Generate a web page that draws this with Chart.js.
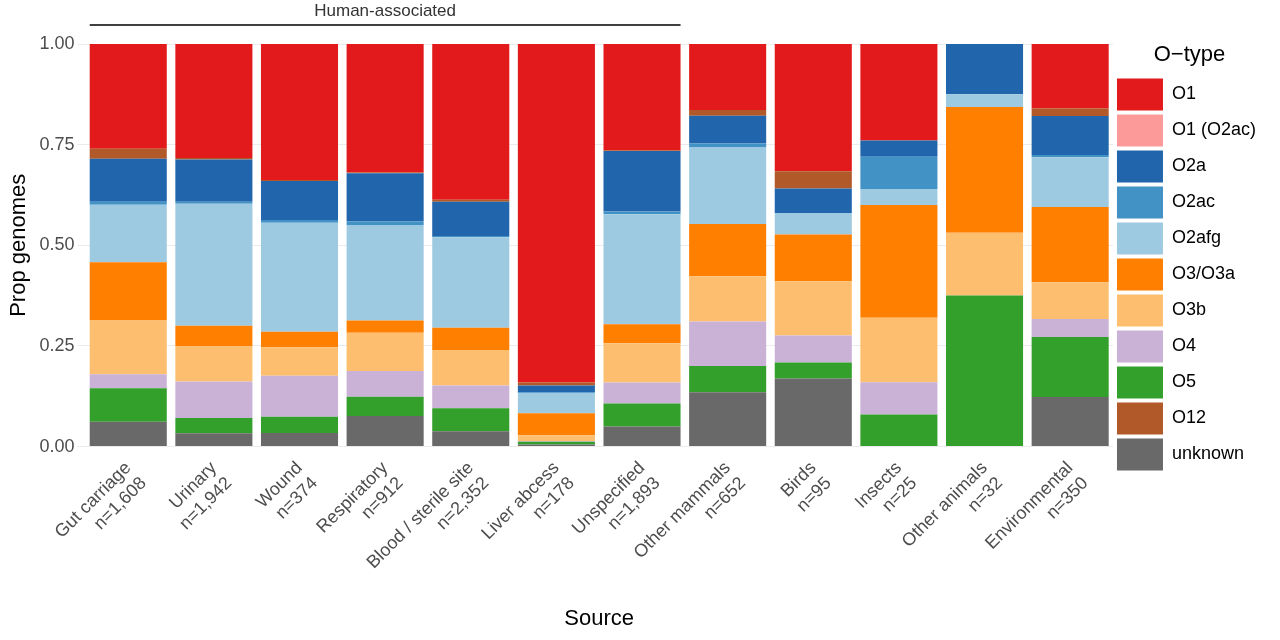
<!DOCTYPE html>
<html>
<head>
<meta charset="utf-8">
<script src="https://cdn.jsdelivr.net/npm/chart.js@4"></script>
<style>
  html, body { margin: 0; padding: 0; background: #fff; }
  #wrap { width: 1280px; height: 640px; }
</style>
</head>
<body>
<div id="wrap"><canvas id="wykres"></canvas></div>
<script>
// Kategorie (osie X)
const sources = [
  ['Gut carriage', 'n=1,608'], ['Urinary', 'n=1,942'], ['Wound', 'n=374'],
  ['Respiratory', 'n=912'], ['Blood / sterile site', 'n=2,352'], ['Liver abcess', 'n=178'],
  ['Unspecified', 'n=1,893'], ['Other mammals', 'n=652'], ['Birds', 'n=95'],
  ['Insects', 'n=25'], ['Other animals', 'n=32'], ['Environmental', 'n=350']
];
const humanCount = 7;

// Udzialy (od dolu stosu)
const unknown = [0.062, 0.033, 0.034, 0.076, 0.038, 0.005, 0.050, 0.135, 0.169, 0.00, 0.0, 0.123];
const o5      = [0.083, 0.038, 0.040, 0.048, 0.057, 0.007, 0.057, 0.065, 0.040, 0.08, 0.375, 0.149];
const o4      = [0.035, 0.091, 0.102, 0.064, 0.057, 0.002, 0.052, 0.111, 0.067, 0.08, 0.0, 0.045];
const o3b     = [0.133, 0.088, 0.071, 0.095, 0.088, 0.014, 0.098, 0.112, 0.135, 0.16, 0.15625, 0.091];
const o3      = [0.145, 0.050, 0.038, 0.030, 0.055, 0.055, 0.047, 0.130, 0.116, 0.28, 0.3125, 0.187];
const o2afg   = [0.143, 0.303, 0.271, 0.236, 0.225, 0.050, 0.273, 0.190, 0.053, 0.04, 0.03125, 0.124];
const o2ac    = [0.007, 0.005, 0.007, 0.011, 0.003, 0.002, 0.007, 0.010, 0.000, 0.08, 0.0, 0.005];
const o2a     = [0.107, 0.105, 0.097, 0.119, 0.085, 0.017, 0.150, 0.069, 0.061, 0.04, 0.125, 0.097];
const o1o2ac  = [0.000, 0.000, 0.000, 0.000, 0.000, 0.000, 0.000, 0.000, 0.000, 0.00, 0.0, 0.000];
const o12     = [0.025, 0.004, 0.002, 0.002, 0.005, 0.007, 0.002, 0.014, 0.043, 0.00, 0.0, 0.019];
const o1      = [0.260, 0.283, 0.338, 0.319, 0.387, 0.841, 0.264, 0.164, 0.316, 0.24, 0.0, 0.160];

const legendOrder = ['O1', 'O1 (O2ac)', 'O2a', 'O2ac', 'O2afg', 'O3/O3a', 'O3b', 'O4', 'O5', 'O12', 'unknown'];

const series = [
  ['unknown', unknown, '#696969'],
  ['O5', o5, '#33A02C'],
  ['O4', o4, '#CAB2D6'],
  ['O3b', o3b, '#FDBF6F'],
  ['O3/O3a', o3, '#FF7F00'],
  ['O2afg', o2afg, '#9ECAE1'],
  ['O2ac', o2ac, '#4292C6'],
  ['O2a', o2a, '#2166AC'],
  ['O1 (O2ac)', o1o2ac, '#FB9A99'],
  ['O12', o12, '#B15928'],
  ['O1', o1, '#E31A1C']
];

const FONT = '"Liberation Sans", Arial, sans-serif';

// Linia "Human-associated"
const humanPlugin = {
  id: 'human',
  afterDraw(c) {
    const x = c.scales.x;
    const ctx = c.ctx;
    const half = (x.getPixelForValue(1) - x.getPixelForValue(0)) / 2;
    const x0 = x.getPixelForValue(0) - half * 0.9;
    const x1 = x.getPixelForValue(humanCount - 1) + half * 0.9;
    ctx.save();
    ctx.strokeStyle = '#000';
    ctx.lineWidth = 1.5;
    ctx.beginPath();
    ctx.moveTo(x0, 25);
    ctx.lineTo(x1, 25);
    ctx.stroke();
    ctx.fillStyle = '#333';
    ctx.font = '17px ' + FONT;
    ctx.textAlign = 'center';
    ctx.textBaseline = 'bottom';
    ctx.fillText('Human-associated', (x0 + x1) / 2, 20);
    ctx.restore();
  }
};

new Chart(document.getElementById('wykres'), {
  type: 'bar',
  data: {
    labels: sources,
    datasets: series.map(s => ({
      label: s[0], data: s[1], backgroundColor: s[2],
      borderWidth: 0, barPercentage: 0.9, categoryPercentage: 1.0
    }))
  },
  options: {
    responsive: true,
    maintainAspectRatio: false,
    animation: false,
    layout: { padding: { top: 44, right: 14, left: 2, bottom: 4 } },
    plugins: {
      tooltip: { enabled: false },
      legend: {
        position: 'right',
        align: 'start',
        title: { display: true, text: 'O\u2212type', color: '#000', font: { size: 22, family: FONT }, padding: { top: 0, bottom: 4 } },
        labels: {
          boxWidth: 46, boxHeight: 32, padding: 4, color: '#000',
          font: { size: 18, family: FONT },
          sort: (a, b) => legendOrder.indexOf(a.text) - legendOrder.indexOf(b.text)
        }
      }
    },
    scales: {
      x: {
        stacked: true,
        grid: { display: false },
        border: { display: false },
        ticks: { color: '#4d4d4d', font: { size: 18, family: FONT }, maxRotation: 45, minRotation: 45, autoSkip: false },
        title: { display: true, text: 'Source', color: '#000', font: { size: 22, family: FONT }, padding: { top: 14 } }
      },
      y: {
        stacked: true,
        min: 0, max: 1,
        grid: { color: '#ebebeb' },
        border: { display: false },
        ticks: { stepSize: 0.25, color: '#4d4d4d', font: { size: 18, family: FONT }, callback: v => v.toFixed(2) },
        title: { display: true, text: 'Prop genomes', color: '#000', font: { size: 22, family: FONT } }
      }
    }
  },
  plugins: [humanPlugin]
});
</script>
</body>
</html>
